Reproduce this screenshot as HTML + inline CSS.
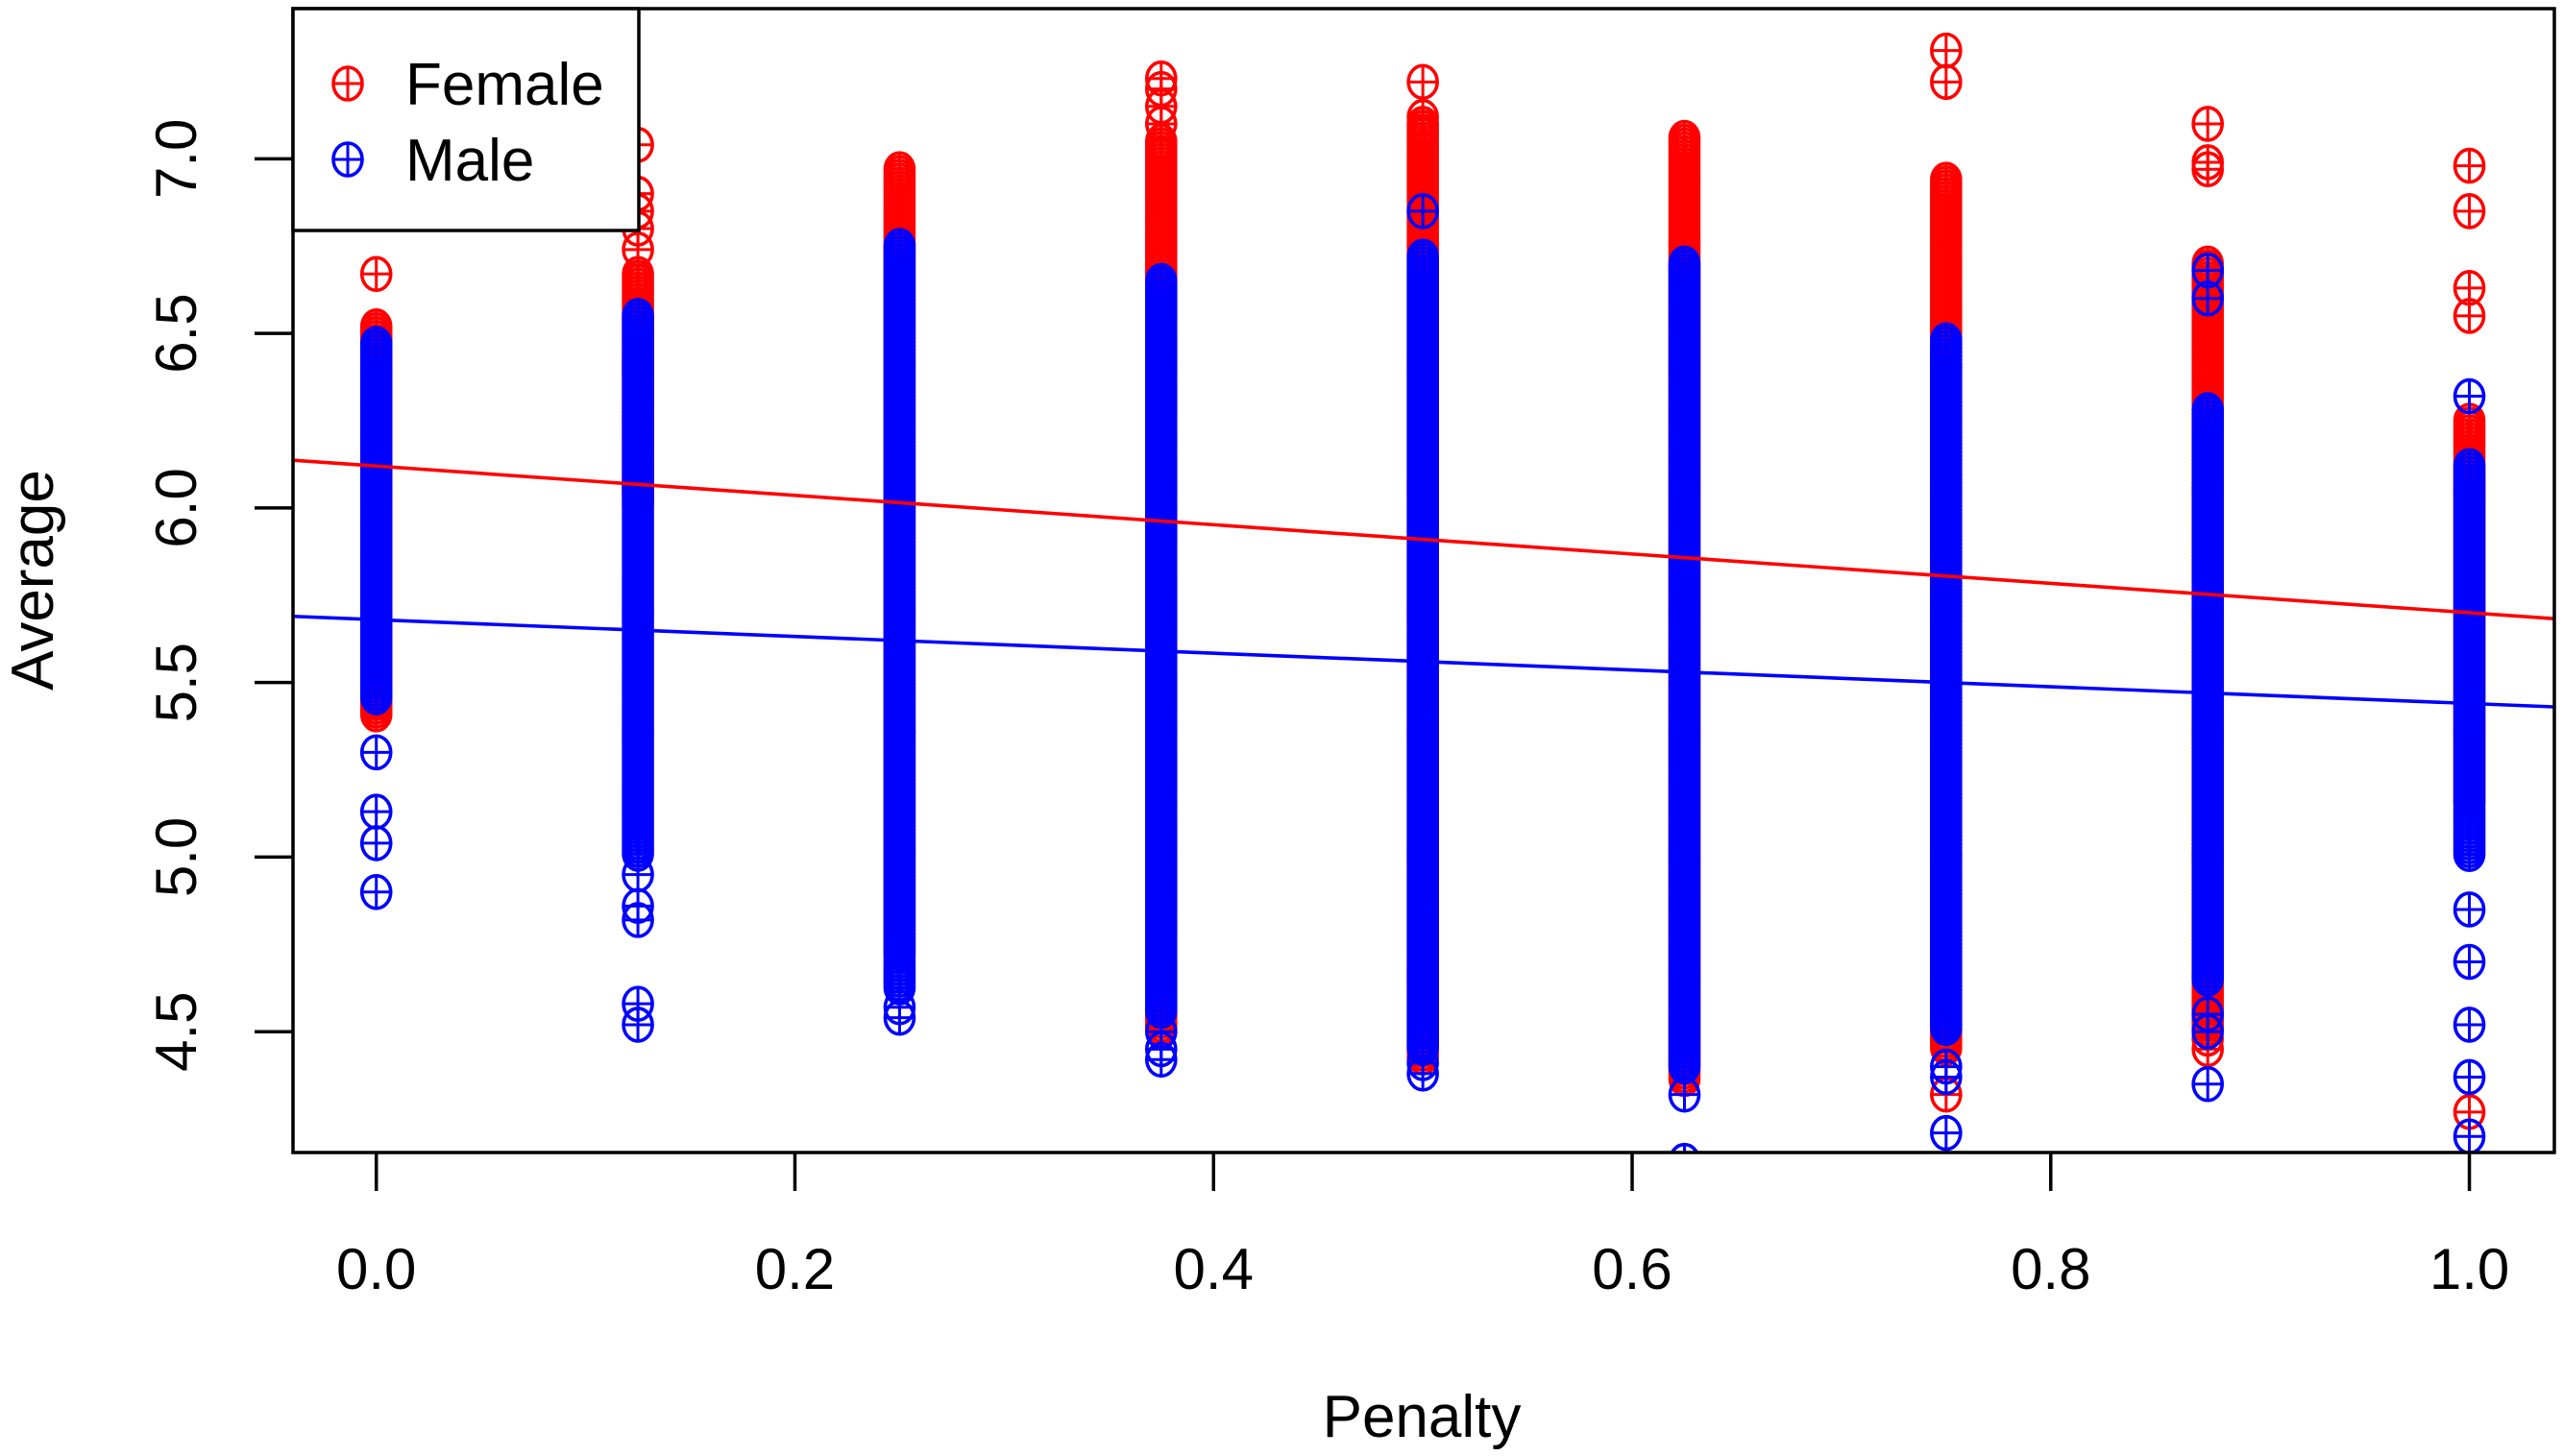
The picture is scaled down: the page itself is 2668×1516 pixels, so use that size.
<!DOCTYPE html>
<html><head><meta charset="utf-8"><style>
html,body{margin:0;padding:0;background:#fff;}
svg{display:block;font-family:"Liberation Sans",Arial,sans-serif;}
</style></head><body>
<svg id="chart" width="2668" height="1516" viewBox="0 0 2668 1516" xmlns="http://www.w3.org/2000/svg">
<g id="pts"></g>
<g id="lines"></g>
<g id="axes"></g>
<g id="legend"></g>
</svg>
<script>
// ---- data ----
const penalties = [0, 0.125, 0.25, 0.375, 0.5, 0.625, 0.75, 0.875, 1.0];
const femaleBandLo = [5.4, 6.0, 4.72, 4.5, 4.42, 4.36, 4.45, 4.5, 5.15];
const femaleBandHi = [6.52, 6.67, 6.97, 7.05, 7.1, 7.06, 6.94, 6.7, 6.25];
const femaleOutliers = [
  [6.67, 6.45, 6.3, 6.2, 5.95, 5.85, 5.45],
  [7.04, 6.9, 6.85, 6.8, 6.74],
  [],
  [7.23, 7.2, 7.15, 7.1],
  [7.22, 7.12],
  [],
  [7.31, 7.22, 4.32],
  [7.1, 6.99, 6.97, 4.48, 4.45],
  [6.98, 6.85, 6.63, 6.55, 4.27]
];
const maleBandLo = [5.45, 5.0, 4.62, 4.55, 4.45, 4.4, 4.5, 4.65, 5.0];
const maleBandHi = [6.47, 6.55, 6.75, 6.65, 6.72, 6.7, 6.48, 6.28, 6.12];
const maleOutliers = [
  [4.9, 5.04, 5.13, 5.3],
  [4.52, 4.58, 4.82, 4.86, 4.95],
  [4.54, 4.57],
  [4.42, 4.45, 4.5],
  [4.38, 4.41, 6.85],
  [4.32, 4.13],
  [4.4, 4.37, 4.21],
  [4.55, 4.5, 4.35, 6.68, 6.6],
  [6.32, 4.85, 4.7, 4.52, 4.37, 4.2]
];
const femaleFit = [6.12, 5.70]; // at penalty 0 and 1
const maleFit = [5.68, 5.44];
const xTicks = [0.0, 0.2, 0.4, 0.6, 0.8, 1.0];
const xTickLabels = ["0.0", "0.2", "0.4", "0.6", "0.8", "1.0"];
const yTicks = [4.5, 5.0, 5.5, 6.0, 6.5, 7.0];
const yTickLabels = ["4.5", "5.0", "5.5", "6.0", "6.5", "7.0"];

// ---- layout ----
const L = 305, R = 2659, T = 9, B = 1200;
const xMin = -0.0398, xMax = 1.0406, yMin = 4.154, yMax = 7.43;
const xs = v => L + (v - xMin) / (xMax - xMin) * (R - L);
const ys = v => B - (v - yMin) / (yMax - yMin) * (B - T);
const NS = "http://www.w3.org/2000/svg";
function mk(tag, attrs, parent) {
  const e = document.createElementNS(NS, tag);
  for (const k in attrs) e.setAttribute(k, attrs[k]);
  parent.appendChild(e);
  return e;
}
const RED = "#ff0000", BLUE = "#0000ff";
function marker(parent, cx, cy, col, name) {
  const g = mk("g", {}, parent);
  
  
  mk("ellipse", {cx: cx, cy: cy, rx: 15, ry: 17, fill: "none", stroke: col, "stroke-width": 3.6}, g);
  mk("line", {x1: cx - 15, y1: cy, x2: cx + 15, y2: cy, stroke: col, "stroke-width": 3}, g);
  mk("line", {x1: cx, y1: cy - 17, x2: cx, y2: cy + 17, stroke: col, "stroke-width": 3}, g);
}
const pts = document.getElementById('pts');
const clip = mk("clipPath", {id: "pc"}, document.getElementById('chart'));
mk("rect", {x: L, y: T, width: R - L, height: B - T}, clip);
pts.setAttribute("clip-path", "url(#pc)");
function series(lo, hi, outl, col, name) {
  penalties.forEach((p, i) => {
    const cx = xs(p);
    const y1 = ys(hi[i]), y2 = ys(lo[i]);
    for (let y = y1; y <= y2; y += 4) marker(pts, cx, y, col, name + '-point');
    outl[i].forEach(v => marker(pts, cx, ys(v), col, name + '-point'));
  });
}
series(femaleBandLo, femaleBandHi, femaleOutliers, RED, 'female');
series(maleBandLo, maleBandHi, maleOutliers, BLUE, 'male');

// regression lines
const lines = document.getElementById('lines');
function fit(f, col, name) {
  const a = f[0], b = f[1] - f[0];
  const l = mk("line", {x1: xs(xMin), y1: ys(a + b * xMin), x2: xs(xMax), y2: ys(a + b * xMax), stroke: col, "stroke-width": 3.6}, lines);
  
  
}
fit(femaleFit, RED, 'female-fit-line');
fit(maleFit, BLUE, 'male-fit-line');

// axes
const ax = document.getElementById('axes');
const frame = mk("rect", {x: L, y: T, width: R - L, height: B - T, fill: "none", stroke: "#000", "stroke-width": 3.5}, ax);


xTicks.forEach((v, i) => {
  const x = xs(v);
  mk("line", {x1: x, y1: B, x2: x, y2: B + 40, stroke: "#000", "stroke-width": 3.5}, ax);
  const t = mk("text", {x: x, y: 1342, "font-size": 60, "text-anchor": "middle"}, ax);
  t.textContent = xTickLabels[i];
  
  
});
yTicks.forEach((v, i) => {
  const y = ys(v);
  mk("line", {x1: L, y1: y, x2: L - 40, y2: y, stroke: "#000", "stroke-width": 3.5}, ax);
  const t = mk("text", {x: 0, y: 0, "font-size": 60, "text-anchor": "middle", transform: `translate(204,${y}) rotate(-90)`}, ax);
  t.textContent = yTickLabels[i];
  
  
});
const xt = mk("text", {x: 1480, y: 1496, "font-size": 62, "text-anchor": "middle"}, ax);
xt.textContent = "Penalty";


const yt = mk("text", {x: 0, y: 0, "font-size": 62, "text-anchor": "middle", transform: "translate(55,604) rotate(-90)"}, ax);
yt.textContent = "Average";



// legend
const lg = document.getElementById('legend');
const lb = mk("rect", {x: L, y: T, width: 360, height: 231, fill: "#fff", stroke: "#000", "stroke-width": 3.5}, lg);


[["Female", RED, 87], ["Male", BLUE, 166]].forEach(([lab, col, y]) => {
  const g = mk("g", {}, lg);
  
  
  marker(g, 362, y, col, 'legend-marker');
  const t = mk("text", {x: 422, y: y + 22, "font-size": 62}, g);
  t.textContent = lab;
});
</script>
</body></html>
